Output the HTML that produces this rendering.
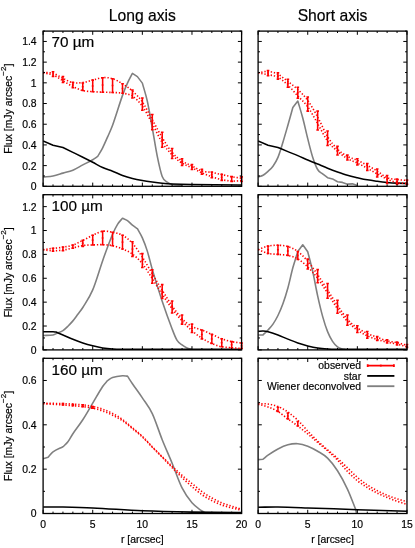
<!DOCTYPE html>
<html><head><meta charset="utf-8"><title>Flux profiles</title>
<style>
html,body{margin:0;padding:0;background:#fff;}
svg{display:block;will-change:transform;}
text{font-family:"Liberation Sans",sans-serif;fill:#000;stroke:#000;stroke-width:0.18px;}
.t{font-size:10.4px;}
.b{font-size:15.7px;}
.p{font-size:15.3px;}
</style></head><body>
<svg width="415" height="548" viewBox="0 0 415 548">
<rect width="415" height="548" fill="#fff"/>
<clipPath id="cL0"><rect x="43.1" y="31.1" width="198.5" height="155.2"/></clipPath>
<g clip-path="url(#cL0)">
<path d="M43.1 177.05C46.41 176.68 49.72 176.57 53.03 175.92C56.33 175.27 59.64 174.1 62.95 173.14C66.26 172.18 69.57 171.53 72.88 170.15C76.18 168.78 79.49 166.63 82.8 164.9C86.11 163.17 89.42 161.63 92.72 159.75C94.38 158.81 96.03 157.55 97.69 156.45C99.34 153.57 101 151.06 102.65 147.8C104.3 144.54 105.96 140.64 107.61 136.88C109.27 133.12 110.92 129.86 112.58 125.25C115.88 116.02 119.19 104.74 122.5 95.38C124.15 90.69 125.81 86.77 127.46 83.12C129.12 79.46 130.77 76.66 132.43 73.44L137.39 76.63L142.35 83.12C144 89.13 145.66 93.69 147.31 101.14C148.97 108.59 150.62 118.65 152.28 127.82C153.93 136.99 155.58 148.04 157.24 156.15C158.89 164.25 160.55 172.09 162.2 176.44C163.85 180.78 165.51 180.87 167.16 182.2C168.82 183.54 170.47 184.1 172.12 184.47C175.43 185.2 178.74 185.16 182.05 185.5" fill="none" stroke="#808080" stroke-width="1.6" stroke-linejoin="round"/>
<path d="M43.1 141L53.03 145.33L62.95 147.49C66.26 149.11 69.57 150.72 72.88 152.33C76.18 153.95 79.49 155.53 82.8 157.18C86.11 158.82 89.42 160.49 92.72 162.22C96.03 163.96 99.34 166.07 102.65 167.58C105.96 169.09 109.27 169.98 112.58 171.29C115.88 172.59 119.19 174.22 122.5 175.41C125.81 176.59 129.12 177.55 132.43 178.39C135.73 179.23 139.04 179.85 142.35 180.45C145.66 181.05 148.97 181.53 152.28 182C155.58 182.46 158.89 182.91 162.2 183.23C165.51 183.56 168.82 183.82 172.12 183.96C178.74 184.23 185.36 184.37 191.97 184.47C208.52 184.72 225.06 184.81 241.6 184.99" fill="none" stroke="#000000" stroke-width="1.55" stroke-linejoin="round"/>
</g>
<path d="M43.1 72.61C46.41 72.82 49.72 72.27 53.03 73.23C56.33 74.19 59.64 76.8 62.95 78.38C66.26 79.96 69.57 82.02 72.88 82.71C76.18 83.39 79.49 82.93 82.8 82.5C86.11 82.07 89.42 80.94 92.72 80.13C96.03 79.32 99.34 77.9 102.65 77.66C105.96 77.42 109.27 77.66 112.58 78.69C115.88 79.72 119.19 81.78 122.5 83.84C125.81 85.9 129.12 88.04 132.43 91.05C135.73 94.05 139.04 97.11 142.35 101.86C145.66 106.62 148.97 113.62 152.28 119.58C155.58 125.54 158.89 132.13 162.2 137.6C165.51 143.08 168.82 148.54 172.12 152.44C175.43 156.33 178.74 158.74 182.05 160.99C185.36 163.23 188.67 164.26 191.97 165.93C195.28 167.6 198.59 169.9 201.9 170.98C205.21 172.06 208.52 171.82 211.83 172.42C215.13 173.02 218.44 173.86 221.75 174.58C225.06 175.3 228.37 176.14 231.68 176.75C234.98 177.35 238.29 177.71 241.6 178.19" fill="none" stroke="#ff0000" stroke-width="1.6" stroke-dasharray="1.3 1.9"/>
<path d="M43.1 72.82C46.41 73.54 49.72 73.66 53.03 74.98C56.33 76.3 59.64 78.81 62.95 80.75C66.26 82.69 69.57 84.99 72.88 86.62C76.18 88.25 79.49 89.69 82.8 90.53C86.11 91.38 89.42 91.39 92.72 91.67C96.03 91.94 99.34 92.04 102.65 92.18C105.96 92.32 109.27 92.32 112.58 92.49C115.88 92.66 119.19 92.61 122.5 93.21C125.81 93.81 129.12 93.93 132.43 96.1C135.73 98.26 139.04 101.59 142.35 106.19C145.66 110.79 148.97 117.64 152.28 123.7C155.58 129.76 158.89 137.35 162.2 142.55C165.51 147.75 168.82 151.48 172.12 154.91C175.43 158.34 178.74 161 182.05 163.15C185.36 165.29 188.67 166.17 191.97 167.78C195.28 169.4 198.59 171.34 201.9 172.83C205.21 174.32 208.52 175.61 211.83 176.75C215.13 177.88 218.44 178.91 221.75 179.63C225.06 180.35 228.37 180.9 231.68 181.07C234.98 181.24 238.29 180.8 241.6 180.66" fill="none" stroke="#ff0000" stroke-width="1.6" stroke-dasharray="1.3 1.9"/>
<path d="M53.03 71.79V76.42M51.73 71.79H54.33M51.73 76.42H54.33M62.95 76.42V82.5M61.65 76.42H64.25M61.65 82.5H64.25M61.95 79.46h2M72.88 82.19V87.75M71.58 82.19H74.17M71.58 87.75H74.17M71.88 84.97h2M82.8 83.02V90.53M81.5 83.02H84.1M81.5 90.53H84.1M81.8 86.77h2M92.72 80.13V91.67M91.42 80.13H94.02M91.42 91.67H94.02M91.72 85.9h2M102.65 77.66V92.18M101.35 77.66H103.95M101.35 92.18H103.95M101.65 84.92h2M112.58 78.69V92.49M111.28 78.69H113.88M111.28 92.49H113.88M111.58 85.59h2M122.5 83.84V93.21M121.2 83.84H123.8M121.2 93.21H123.8M121.5 88.53h2M132.43 89.92V97.95M131.12 89.92H133.73M131.12 97.95H133.73M131.43 93.93h2M142.35 97.95V110.31M141.05 97.95H143.65M141.05 110.31H143.65M141.35 104.13h2M152.28 114.43V129.67M150.97 114.43H153.58M150.97 129.67H153.58M151.28 122.05h2M162.2 132.25V147.18M160.9 132.25H163.5M160.9 147.18H163.5M161.2 139.72h2M172.12 148.42V158.51M170.82 148.42H173.43M170.82 158.51H173.43M171.12 153.47h2M182.05 158.72V165.41M180.75 158.72H183.35M180.75 165.41H183.35M181.05 162.07h2M191.97 164.49V169.53M190.67 164.49H193.28M190.67 169.53H193.28M190.97 167.01h2M201.9 169.23V174.17M200.6 169.23H203.2M200.6 174.17H203.2M211.83 171.9V177.78M210.53 171.9H213.13M210.53 177.78H213.13M210.83 174.84h2M221.75 174.38V180.35M220.45 174.38H223.05M220.45 180.35H223.05M220.75 177.36h2M231.68 176.64V181.38M230.38 176.64H232.98M230.38 181.38H232.98M241.6 176.85V181.48M240.3 176.85H242.9M240.3 181.48H242.9" fill="none" stroke="#ff0000" stroke-width="1.55"/>
<path d="M43.1 186.3v-3.7M43.1 31.1v3.7M53.03 186.3v-1.9M53.03 31.1v1.9M62.95 186.3v-1.9M62.95 31.1v1.9M72.88 186.3v-1.9M72.88 31.1v1.9M82.8 186.3v-1.9M82.8 31.1v1.9M92.72 186.3v-3.7M92.72 31.1v3.7M102.65 186.3v-1.9M102.65 31.1v1.9M112.58 186.3v-1.9M112.58 31.1v1.9M122.5 186.3v-1.9M122.5 31.1v1.9M132.43 186.3v-1.9M132.43 31.1v1.9M142.35 186.3v-3.7M142.35 31.1v3.7M152.28 186.3v-1.9M152.28 31.1v1.9M162.2 186.3v-1.9M162.2 31.1v1.9M172.12 186.3v-1.9M172.12 31.1v1.9M182.05 186.3v-1.9M182.05 31.1v1.9M191.97 186.3v-3.7M191.97 31.1v3.7M201.9 186.3v-1.9M201.9 31.1v1.9M211.83 186.3v-1.9M211.83 31.1v1.9M221.75 186.3v-1.9M221.75 31.1v1.9M231.68 186.3v-1.9M231.68 31.1v1.9M241.6 186.3v-3.7M241.6 31.1v3.7M43.1 186.3h3.7M241.6 186.3h-3.7M43.1 175.95h1.9M241.6 175.95h-1.9M43.1 165.61h3.7M241.6 165.61h-3.7M43.1 155.26h1.9M241.6 155.26h-1.9M43.1 144.91h3.7M241.6 144.91h-3.7M43.1 134.57h1.9M241.6 134.57h-1.9M43.1 124.22h3.7M241.6 124.22h-3.7M43.1 113.87h1.9M241.6 113.87h-1.9M43.1 103.53h3.7M241.6 103.53h-3.7M43.1 93.18h1.9M241.6 93.18h-1.9M43.1 82.83h3.7M241.6 82.83h-3.7M43.1 72.49h1.9M241.6 72.49h-1.9M43.1 62.14h3.7M241.6 62.14h-3.7M43.1 51.79h1.9M241.6 51.79h-1.9M43.1 41.45h3.7M241.6 41.45h-3.7M43.1 31.1h1.9M241.6 31.1h-1.9" fill="none" stroke="#000" stroke-width="1"/>
<rect x="43.1" y="31.1" width="198.5" height="155.2" fill="none" stroke="#000" stroke-width="1.3"/>
<text x="36.6" y="190.2" text-anchor="end" class="t">0</text>
<text x="36.6" y="169.51" text-anchor="end" class="t">0.2</text>
<text x="36.6" y="148.81" text-anchor="end" class="t">0.4</text>
<text x="36.6" y="128.12" text-anchor="end" class="t">0.6</text>
<text x="36.6" y="107.43" text-anchor="end" class="t">0.8</text>
<text x="36.6" y="86.73" text-anchor="end" class="t">1</text>
<text x="36.6" y="66.04" text-anchor="end" class="t">1.2</text>
<text x="36.6" y="45.35" text-anchor="end" class="t">1.4</text>
<text transform="translate(12.4 108.7) rotate(-90)" text-anchor="middle" class="t">Flux [mJy arcsec<tspan dy="-6.8" font-size="8">−2</tspan><tspan dy="6.8">]</tspan></text>
<text x="51.5" y="47.4" class="p">70 µm</text>
<text x="142.35" y="20.7" text-anchor="middle" class="b">Long axis</text>
<clipPath id="cL1"><rect x="43.1" y="194.7" width="198.5" height="155.2"/></clipPath>
<g clip-path="url(#cL1)">
<path d="M43.1 335.43C46.41 335.27 49.72 335.54 53.03 334.95C54.68 334.66 56.33 333.52 57.99 332.81C59.64 332.09 61.3 331.75 62.95 330.66C64.6 329.57 66.26 327.88 67.91 326.25C69.57 324.62 71.22 322.87 72.88 320.88C74.53 318.9 76.18 316.55 77.84 314.33C79.49 312.1 81.15 310.25 82.8 307.53C86.11 302.1 89.42 297.69 92.72 289.88C96.03 282.07 99.34 270.21 102.65 260.67C104.3 255.9 105.96 251.37 107.61 246.96C109.27 242.55 110.92 237.98 112.58 234.2C114.23 230.43 115.88 226.97 117.54 224.31C119.19 221.64 120.85 220.25 122.5 218.23C124.15 219.02 125.81 219.46 127.46 220.61C129.12 221.76 130.77 223.79 132.43 225.14C134.08 226.49 135.73 227.53 137.39 228.72C139.04 231.78 140.7 234.16 142.35 237.9C144 241.64 145.66 245.89 147.31 251.13C148.97 256.38 150.62 263.81 152.28 269.38C155.58 280.51 158.89 291.28 162.2 301.21C165.51 311.15 168.82 320.28 172.12 328.99C173.78 333.35 175.43 337.78 177.09 340.44C178.74 343.1 180.4 343.7 182.05 344.97C183.7 346.24 185.36 347.31 187.01 348.07C188.67 348.82 190.32 349.02 191.97 349.5" fill="none" stroke="#808080" stroke-width="1.6" stroke-linejoin="round"/>
<path d="M43.1 331.73C46.41 331.73 49.72 331.64 53.03 331.73C54.02 331.76 55.01 331.97 56 332.09C58.32 333.05 60.63 333.97 62.95 334.95C66.26 336.36 69.57 337.91 72.88 339.25C76.18 340.58 79.49 341.85 82.8 342.94C86.11 344.04 89.42 344.97 92.72 345.8C96.03 346.64 99.34 347.41 102.65 347.95C105.96 348.49 109.27 348.8 112.58 349.02C115.88 349.24 119.19 349.26 122.5 349.26C162.2 349.33 201.9 349.26 241.6 349.26" fill="none" stroke="#000000" stroke-width="1.55" stroke-linejoin="round"/>
</g>
<path d="M43.1 249.58C46.41 249.19 49.72 248.79 53.03 248.39C56.33 247.99 59.64 247.76 62.95 247.2C66.26 246.64 69.57 246.19 72.88 245.05C76.18 243.92 79.49 242.03 82.8 240.4C86.11 238.77 89.42 236.81 92.72 235.28C96.03 233.75 99.34 231.72 102.65 231.22C105.96 230.73 109.27 231.62 112.58 232.3C115.88 232.97 119.19 233.45 122.5 235.28C125.81 237.11 129.12 239.63 132.43 243.27C135.73 246.9 139.04 252.01 142.35 257.1C145.66 262.18 148.97 268.26 152.28 273.79C155.58 279.31 158.89 284.9 162.2 290.24C165.51 295.59 168.82 301.13 172.12 305.86C175.43 310.59 178.74 315.18 182.05 318.62C185.36 322.06 188.67 324.58 191.97 326.49C195.28 328.4 198.59 328.75 201.9 330.07C205.21 331.38 208.52 332.91 211.83 334.36C215.13 335.81 218.44 337.56 221.75 338.77C225.06 339.98 228.37 340.92 231.68 341.63C234.98 342.35 238.29 342.58 241.6 343.06" fill="none" stroke="#ff0000" stroke-width="1.6" stroke-dasharray="1.3 1.9"/>
<path d="M43.1 249.82C46.41 250.14 49.72 250.74 53.03 250.78C56.33 250.82 59.64 250.54 62.95 250.06C66.26 249.58 69.57 248.67 72.88 247.92C76.18 247.16 79.49 246.03 82.8 245.53C86.11 245.03 89.42 245.07 92.72 244.93C96.03 244.8 99.34 244.58 102.65 244.7C105.96 244.82 109.27 244.93 112.58 245.65C115.88 246.37 119.19 247.58 122.5 248.99C125.81 250.4 129.12 251.67 132.43 254.12C135.73 256.56 139.04 259.56 142.35 263.65C145.66 267.75 148.97 273.57 152.28 278.68C155.58 283.78 158.89 289.27 162.2 294.3C165.51 299.32 168.82 304.39 172.12 308.84C175.43 313.29 178.74 317.37 182.05 321C185.36 324.64 188.67 327.8 191.97 330.66C195.28 333.52 198.59 336.03 201.9 338.17C205.21 340.32 208.52 342.11 211.83 343.54C215.13 344.97 218.44 346.06 221.75 346.76C225.06 347.45 228.37 347.41 231.68 347.71C234.98 348.01 238.29 348.27 241.6 348.55" fill="none" stroke="#ff0000" stroke-width="1.6" stroke-dasharray="1.3 1.9"/>
<path d="M53.03 248.15V251.25M51.73 248.15H54.33M51.73 251.25H54.33M62.95 246.96V250.66M61.65 246.96H64.25M61.65 250.66H64.25M72.88 244.93V248.15M71.58 244.93H74.17M71.58 248.15H74.17M82.8 240.17V246.37M81.5 240.17H84.1M81.5 246.37H84.1M81.8 243.27h2M92.72 235.28V244.93M91.42 235.28H94.02M91.42 244.93H94.02M91.72 240.11h2M102.65 231.22V244.7M101.35 231.22H103.95M101.35 244.7H103.95M101.65 237.96h2M112.58 232.3V245.65M111.28 232.3H113.88M111.28 245.65H113.88M111.58 238.97h2M122.5 235.28V248.99M121.2 235.28H123.8M121.2 248.99H123.8M121.5 242.13h2M132.43 241.72V256.5M131.12 241.72H133.73M131.12 256.5H133.73M131.43 249.11h2M142.35 253.64V267.47M141.05 253.64H143.65M141.05 267.47H143.65M141.35 260.55h2M152.28 269.73V283.33M150.97 269.73H153.58M150.97 283.33H153.58M151.28 276.53h2M162.2 284.64V298.59M160.9 284.64H163.5M160.9 298.59H163.5M161.2 291.61h2M172.12 300.97V313.02M170.82 300.97H173.43M170.82 313.02H173.43M171.12 306.99h2M182.05 314.92V324.1M180.75 314.92H183.35M180.75 324.1H183.35M181.05 319.51h2M191.97 324.1V332.45M190.67 324.1H193.28M190.67 332.45H193.28M190.97 328.28h2M201.9 330.07V339.01M200.6 330.07H203.2M200.6 339.01H203.2M200.9 334.54h2M211.83 334.36V343.54M210.53 334.36H213.13M210.53 343.54H213.13M210.83 338.95h2M221.75 338.77V346.76M220.45 338.77H223.05M220.45 346.76H223.05M220.75 342.76h2M231.68 341.63V347.71M230.38 341.63H232.98M230.38 347.71H232.98M230.68 344.67h2M241.6 343.06V348.55M240.3 343.06H242.9M240.3 348.55H242.9M240.6 345.8h2" fill="none" stroke="#ff0000" stroke-width="1.55"/>
<path d="M43.1 349.9v-3.7M43.1 194.7v3.7M53.03 349.9v-1.9M53.03 194.7v1.9M62.95 349.9v-1.9M62.95 194.7v1.9M72.88 349.9v-1.9M72.88 194.7v1.9M82.8 349.9v-1.9M82.8 194.7v1.9M92.72 349.9v-3.7M92.72 194.7v3.7M102.65 349.9v-1.9M102.65 194.7v1.9M112.58 349.9v-1.9M112.58 194.7v1.9M122.5 349.9v-1.9M122.5 194.7v1.9M132.43 349.9v-1.9M132.43 194.7v1.9M142.35 349.9v-3.7M142.35 194.7v3.7M152.28 349.9v-1.9M152.28 194.7v1.9M162.2 349.9v-1.9M162.2 194.7v1.9M172.12 349.9v-1.9M172.12 194.7v1.9M182.05 349.9v-1.9M182.05 194.7v1.9M191.97 349.9v-3.7M191.97 194.7v3.7M201.9 349.9v-1.9M201.9 194.7v1.9M211.83 349.9v-1.9M211.83 194.7v1.9M221.75 349.9v-1.9M221.75 194.7v1.9M231.68 349.9v-1.9M231.68 194.7v1.9M241.6 349.9v-3.7M241.6 194.7v3.7M43.1 349.9h3.7M241.6 349.9h-3.7M43.1 337.96h1.9M241.6 337.96h-1.9M43.1 326.02h3.7M241.6 326.02h-3.7M43.1 314.08h1.9M241.6 314.08h-1.9M43.1 302.15h3.7M241.6 302.15h-3.7M43.1 290.21h1.9M241.6 290.21h-1.9M43.1 278.27h3.7M241.6 278.27h-3.7M43.1 266.33h1.9M241.6 266.33h-1.9M43.1 254.39h3.7M241.6 254.39h-3.7M43.1 242.45h1.9M241.6 242.45h-1.9M43.1 230.52h3.7M241.6 230.52h-3.7M43.1 218.58h1.9M241.6 218.58h-1.9M43.1 206.64h3.7M241.6 206.64h-3.7M43.1 194.7h1.9M241.6 194.7h-1.9" fill="none" stroke="#000" stroke-width="1"/>
<rect x="43.1" y="194.7" width="198.5" height="155.2" fill="none" stroke="#000" stroke-width="1.3"/>
<text x="36.6" y="353.8" text-anchor="end" class="t">0</text>
<text x="36.6" y="329.92" text-anchor="end" class="t">0.2</text>
<text x="36.6" y="306.05" text-anchor="end" class="t">0.4</text>
<text x="36.6" y="282.17" text-anchor="end" class="t">0.6</text>
<text x="36.6" y="258.29" text-anchor="end" class="t">0.8</text>
<text x="36.6" y="234.42" text-anchor="end" class="t">1</text>
<text x="36.6" y="210.54" text-anchor="end" class="t">1.2</text>
<text transform="translate(12.4 272.3) rotate(-90)" text-anchor="middle" class="t">Flux [mJy arcsec<tspan dy="-6.8" font-size="8">−2</tspan><tspan dy="6.8">]</tspan></text>
<text x="51.5" y="211" class="p">100 µm</text>
<clipPath id="cL2"><rect x="43.1" y="358.3" width="198.5" height="155.2"/></clipPath>
<g clip-path="url(#cL2)">
<path d="M43.1 458.75L48.06 457.2C49.72 455.43 51.37 453.04 53.03 451.89C56.33 449.57 59.64 448.49 62.95 446.79C64.6 445.1 66.26 443.88 67.91 441.7C69.57 439.52 71.22 436.16 72.88 433.73C76.18 428.86 79.49 424.87 82.8 419.78C86.11 414.69 89.42 408.71 92.72 403.17C96.03 397.64 99.34 391.58 102.65 386.56C104.3 384.05 105.96 382.58 107.61 380.59C109.27 379.55 110.92 378.03 112.58 377.49C115.88 376.4 119.19 376.01 122.5 375.71C124.15 375.57 125.81 376.01 127.46 376.16C129.12 378.67 130.77 381.27 132.43 383.69C135.73 388.51 139.04 392.88 142.35 397.86C145.66 402.84 148.97 406.6 152.28 413.58C155.58 420.55 158.89 431.44 162.2 439.71C165.51 447.97 168.82 455.13 172.12 463.18C175.43 471.22 178.74 481.37 182.05 487.98C185.36 494.58 188.67 498.98 191.97 502.81C195.28 506.65 198.59 508.58 201.9 511.01C203.22 511.98 204.55 512.34 205.87 513" fill="none" stroke="#808080" stroke-width="1.6" stroke-linejoin="round"/>
<path d="M43.1 506.91C49.72 506.95 56.33 506.89 62.95 507.02C72.88 507.22 82.8 507.44 92.72 507.91C109.27 508.69 125.81 510.08 142.35 510.79C158.89 511.49 175.43 511.82 191.97 512.11C208.52 512.41 225.06 512.41 241.6 512.56" fill="none" stroke="#000000" stroke-width="1.55" stroke-linejoin="round"/>
</g>
<path d="M43.1 403.39C46.41 403.39 49.72 403.36 53.03 403.39C56.33 403.43 59.64 403.49 62.95 403.61C66.26 403.74 69.57 403.96 72.88 404.17C76.18 404.37 79.49 404.44 82.8 404.83C86.11 405.22 89.42 405.77 92.72 406.49C96.03 407.21 99.34 407.99 102.65 409.15C105.96 410.31 109.27 411.75 112.58 413.47C115.88 415.18 119.19 417.07 122.5 419.45C125.81 421.83 129.12 424.95 132.43 427.75C135.73 430.55 139.04 433.1 142.35 436.27C145.66 439.45 148.97 443.38 152.28 446.79C155.58 450.21 158.89 453.51 162.2 456.76C165.51 460 168.82 463.18 172.12 466.28C175.43 469.38 178.74 472.48 182.05 475.36C185.36 478.24 188.67 480.86 191.97 483.55C195.28 486.24 198.59 489.12 201.9 491.52C205.21 493.92 208.52 496.06 211.83 497.94C215.13 499.82 218.44 501.45 221.75 502.81C225.06 504.18 228.37 505.07 231.68 506.14C234.98 507.21 238.29 508.2 241.6 509.24" fill="none" stroke="#ff0000" stroke-width="1.6" stroke-dasharray="1.3 1.9"/>
<path d="M43.1 403.61C46.41 403.84 49.72 404.06 53.03 404.28C56.33 404.5 59.64 404.7 62.95 404.94C66.26 405.18 69.57 405.44 72.88 405.72C76.18 405.99 79.49 406.18 82.8 406.6C86.11 407.03 89.42 407.54 92.72 408.26C96.03 408.98 99.34 409.76 102.65 410.92C105.96 412.08 109.27 413.6 112.58 415.24C115.88 416.88 119.19 418.54 122.5 420.77C125.81 423.01 129.12 425.94 132.43 428.64C135.73 431.33 139.04 433.84 142.35 436.94C145.66 440.04 148.97 443.86 152.28 447.24C155.58 450.61 158.89 453.8 162.2 457.2C165.51 460.6 168.82 464.21 172.12 467.61C175.43 471 178.74 474.4 182.05 477.57C185.36 480.75 188.67 483.81 191.97 486.65C195.28 489.49 198.59 492.3 201.9 494.62C205.21 496.95 208.52 498.87 211.83 500.6C215.13 502.33 218.44 503.81 221.75 505.03C225.06 506.25 228.37 507.06 231.68 507.91C234.98 508.76 238.29 509.38 241.6 510.12" fill="none" stroke="#ff0000" stroke-width="1.6" stroke-dasharray="1.3 1.9"/>
<path d="M62.95 403.61V404.94M61.65 403.61H64.25M61.65 404.94H64.25M72.88 404.17V405.72M71.58 404.17H74.17M71.58 405.72H74.17M82.8 404.83V406.6M81.5 404.83H84.1M81.5 406.6H84.1M92.72 406.49V408.26M91.42 406.49H94.02M91.42 408.26H94.02" fill="none" stroke="#ff0000" stroke-width="1.55"/>
<path d="M43.1 513.5v-3.7M43.1 358.3v3.7M53.03 513.5v-1.9M53.03 358.3v1.9M62.95 513.5v-1.9M62.95 358.3v1.9M72.88 513.5v-1.9M72.88 358.3v1.9M82.8 513.5v-1.9M82.8 358.3v1.9M92.72 513.5v-3.7M92.72 358.3v3.7M102.65 513.5v-1.9M102.65 358.3v1.9M112.58 513.5v-1.9M112.58 358.3v1.9M122.5 513.5v-1.9M122.5 358.3v1.9M132.43 513.5v-1.9M132.43 358.3v1.9M142.35 513.5v-3.7M142.35 358.3v3.7M152.28 513.5v-1.9M152.28 358.3v1.9M162.2 513.5v-1.9M162.2 358.3v1.9M172.12 513.5v-1.9M172.12 358.3v1.9M182.05 513.5v-1.9M182.05 358.3v1.9M191.97 513.5v-3.7M191.97 358.3v3.7M201.9 513.5v-1.9M201.9 358.3v1.9M211.83 513.5v-1.9M211.83 358.3v1.9M221.75 513.5v-1.9M221.75 358.3v1.9M231.68 513.5v-1.9M231.68 358.3v1.9M241.6 513.5v-3.7M241.6 358.3v3.7M43.1 513.5h3.7M241.6 513.5h-3.7M43.1 491.33h1.9M241.6 491.33h-1.9M43.1 469.16h3.7M241.6 469.16h-3.7M43.1 446.99h1.9M241.6 446.99h-1.9M43.1 424.81h3.7M241.6 424.81h-3.7M43.1 402.64h1.9M241.6 402.64h-1.9M43.1 380.47h3.7M241.6 380.47h-3.7M43.1 358.3h1.9M241.6 358.3h-1.9" fill="none" stroke="#000" stroke-width="1"/>
<rect x="43.1" y="358.3" width="198.5" height="155.2" fill="none" stroke="#000" stroke-width="1.3"/>
<text x="36.6" y="517.4" text-anchor="end" class="t">0</text>
<text x="36.6" y="473.06" text-anchor="end" class="t">0.2</text>
<text x="36.6" y="428.71" text-anchor="end" class="t">0.4</text>
<text x="36.6" y="384.37" text-anchor="end" class="t">0.6</text>
<text transform="translate(12.4 435.9) rotate(-90)" text-anchor="middle" class="t">Flux [mJy arcsec<tspan dy="-6.8" font-size="8">−2</tspan><tspan dy="6.8">]</tspan></text>
<text x="51.5" y="374.6" class="p">160 µm</text>
<text x="43.1" y="527.7" text-anchor="middle" class="t">0</text>
<text x="92.72" y="527.7" text-anchor="middle" class="t">5</text>
<text x="142.35" y="527.7" text-anchor="middle" class="t">10</text>
<text x="191.97" y="527.7" text-anchor="middle" class="t">15</text>
<text x="241.6" y="527.7" text-anchor="middle" class="t">20</text>
<text x="142.35" y="542.6" text-anchor="middle" class="t">r [arcsec]</text>
<clipPath id="cR0"><rect x="258.1" y="31.1" width="148.88" height="155.2"/></clipPath>
<g clip-path="url(#cR0)">
<path d="M258.1 176.95C259.75 176.37 261.41 176.14 263.06 175.2C264.72 174.26 266.37 172.78 268.03 171.29C269.68 169.79 271.33 168.56 272.99 166.24C274.64 163.92 276.3 161.38 277.95 157.38C279.6 153.38 281.26 147.6 282.91 142.24C284.57 136.88 286.22 131.03 287.88 125.25C289.53 119.46 291.18 113.43 292.84 107.53L297.8 101.04C299.45 106.7 301.11 111.77 302.76 118.03C304.42 124.3 306.07 132.11 307.73 138.63C309.38 145.16 311.03 152.03 312.69 157.18C314.34 162.33 316 166.75 317.65 169.53C319.3 172.32 320.96 172.5 322.61 173.86C324.27 175.22 325.92 176.4 327.58 177.67L332.54 178.91L337.5 181.79L342.46 182.41L347.43 184.16L352.39 183.85L357.35 185.5" fill="none" stroke="#808080" stroke-width="1.6" stroke-linejoin="round"/>
<path d="M258.1 141L268.03 145.33L277.95 147.49C281.26 148.87 284.57 150.26 287.88 151.61C291.18 152.97 294.49 154.24 297.8 155.63C301.11 157.02 304.42 158.55 307.73 159.96C311.03 161.36 314.34 162.7 317.65 164.08C320.96 165.45 324.27 166.89 327.58 168.2C330.88 169.5 334.19 170.74 337.5 171.9C340.81 173.07 344.12 174.24 347.43 175.2C350.73 176.16 354.04 176.9 357.35 177.67C360.66 178.44 363.97 179.23 367.28 179.84C370.58 180.44 373.89 180.85 377.2 181.28C380.51 181.71 383.82 182.1 387.12 182.41C390.43 182.72 393.74 182.96 397.05 183.13C400.36 183.3 403.67 183.34 406.98 183.44" fill="none" stroke="#000000" stroke-width="1.55" stroke-linejoin="round"/>
</g>
<path d="M258.1 72.82C261.41 72.34 264.72 71.14 268.03 71.38C271.33 71.62 274.64 72.58 277.95 74.26C281.26 75.94 284.57 78.93 287.88 81.47C291.18 84.01 294.49 86.35 297.8 89.5C301.11 92.66 304.42 95.84 307.73 100.42C311.03 105.01 314.34 110.96 317.65 117C320.96 123.05 324.27 131.32 327.58 136.68C330.88 142.03 334.19 145.86 337.5 149.14C340.81 152.42 344.12 154.5 347.43 156.35C350.73 158.2 354.04 158.77 357.35 160.26C360.66 161.76 363.97 163.51 367.28 165.31C370.58 167.11 373.89 169.04 377.2 171.08C380.51 173.12 383.82 176.16 387.12 177.57C390.43 178.98 393.74 179.05 397.05 179.53C400.36 180.01 403.67 180.14 406.98 180.45" fill="none" stroke="#ff0000" stroke-width="1.6" stroke-dasharray="1.3 1.9"/>
<path d="M258.1 72.82C261.41 73.44 264.72 73.95 268.03 74.67C271.33 75.39 274.64 75.41 277.95 77.14C281.26 78.88 284.57 81.93 287.88 85.08C291.18 88.22 294.49 92.37 297.8 95.99C301.11 99.62 304.42 102.21 307.73 106.81C311.03 111.41 314.34 117.88 317.65 123.6C320.96 129.31 324.27 136.49 327.58 141.11C330.88 145.72 334.19 148.39 337.5 151.3C340.81 154.22 344.12 156.64 347.43 158.62C350.73 160.59 354.04 161.55 357.35 163.15C360.66 164.75 363.97 166.39 367.28 168.2C370.58 170 373.89 172.14 377.2 173.96C380.51 175.78 383.82 177.65 387.12 179.11C390.43 180.57 393.74 182 397.05 182.72C400.36 183.44 403.67 183.2 406.98 183.44" fill="none" stroke="#ff0000" stroke-width="1.6" stroke-dasharray="1.3 1.9"/>
<path d="M268.03 70.45V75.7M266.73 70.45H269.33M266.73 75.7H269.33M267.03 73.08h2M277.95 72.82V79.1M276.65 72.82H279.25M276.65 79.1H279.25M276.95 75.96h2M287.88 79.31V87.34M286.57 79.31H289.18M286.57 87.34H289.18M286.88 83.32h2M297.8 87.34V98.16M296.5 87.34H299.1M296.5 98.16H299.1M296.8 92.75h2M307.73 97.02V111.13M306.43 97.02H309.03M306.43 111.13H309.03M306.73 104.08h2M317.65 111.13V130.09M316.35 111.13H318.95M316.35 130.09H318.95M316.65 120.61h2M327.58 130.91V145.43M326.28 130.91H328.88M326.28 145.43H328.88M326.58 138.17h2M337.5 146.15V155.01M336.2 146.15H338.8M336.2 155.01H338.8M336.5 150.58h2M347.43 155.01V160.06M346.12 155.01H348.73M346.12 160.06H348.73M346.43 157.54h2M357.35 158.72V164.9M356.05 158.72H358.65M356.05 164.9H358.65M356.35 161.81h2M367.28 163.56V170.36M365.98 163.56H368.58M365.98 170.36H368.58M366.28 166.96h2M377.2 169.02V176.95M375.9 169.02H378.5M375.9 176.95H378.5M376.2 172.99h2M387.12 175.51V183.44M385.82 175.51H388.43M385.82 183.44H388.43M386.12 179.47h2M397.05 179.11V184.16M395.75 179.11H398.35M395.75 184.16H398.35M396.05 181.64h2M406.98 180.14V184.16M405.68 180.14H408.28M405.68 184.16H408.28" fill="none" stroke="#ff0000" stroke-width="1.55"/>
<path d="M258.1 186.3v-3.7M258.1 31.1v3.7M268.03 186.3v-1.9M268.03 31.1v1.9M277.95 186.3v-1.9M277.95 31.1v1.9M287.88 186.3v-1.9M287.88 31.1v1.9M297.8 186.3v-1.9M297.8 31.1v1.9M307.73 186.3v-3.7M307.73 31.1v3.7M317.65 186.3v-1.9M317.65 31.1v1.9M327.58 186.3v-1.9M327.58 31.1v1.9M337.5 186.3v-1.9M337.5 31.1v1.9M347.43 186.3v-1.9M347.43 31.1v1.9M357.35 186.3v-3.7M357.35 31.1v3.7M367.28 186.3v-1.9M367.28 31.1v1.9M377.2 186.3v-1.9M377.2 31.1v1.9M387.12 186.3v-1.9M387.12 31.1v1.9M397.05 186.3v-1.9M397.05 31.1v1.9M406.98 186.3v-3.7M406.98 31.1v3.7M258.1 186.3h3.7M406.98 186.3h-3.7M258.1 175.95h1.9M406.98 175.95h-1.9M258.1 165.61h3.7M406.98 165.61h-3.7M258.1 155.26h1.9M406.98 155.26h-1.9M258.1 144.91h3.7M406.98 144.91h-3.7M258.1 134.57h1.9M406.98 134.57h-1.9M258.1 124.22h3.7M406.98 124.22h-3.7M258.1 113.87h1.9M406.98 113.87h-1.9M258.1 103.53h3.7M406.98 103.53h-3.7M258.1 93.18h1.9M406.98 93.18h-1.9M258.1 82.83h3.7M406.98 82.83h-3.7M258.1 72.49h1.9M406.98 72.49h-1.9M258.1 62.14h3.7M406.98 62.14h-3.7M258.1 51.79h1.9M406.98 51.79h-1.9M258.1 41.45h3.7M406.98 41.45h-3.7M258.1 31.1h1.9M406.98 31.1h-1.9" fill="none" stroke="#000" stroke-width="1"/>
<rect x="258.1" y="31.1" width="148.88" height="155.2" fill="none" stroke="#000" stroke-width="1.3"/>
<text x="332.54" y="20.7" text-anchor="middle" class="b">Short axis</text>
<clipPath id="cR1"><rect x="258.1" y="194.7" width="148.88" height="155.2"/></clipPath>
<g clip-path="url(#cR1)">
<path d="M258.1 335.07L263.06 334.83C264.72 333.21 266.37 331.73 268.03 329.95C269.68 328.16 271.33 326.51 272.99 324.1C274.64 321.7 276.3 318.9 277.95 315.52C279.6 312.14 281.26 308.43 282.91 303.83C284.57 299.24 286.22 293.98 287.88 287.98C289.53 281.98 291.18 273.91 292.84 267.83C294.49 261.75 296.15 256.94 297.8 251.49L302.76 244.82L307.73 251.73C309.38 258.29 311.03 264.05 312.69 271.4C314.34 278.76 316 288.35 317.65 295.85C319.3 303.34 320.96 310.39 322.61 316.35C324.27 322.32 325.92 327.44 327.58 331.62C329.23 335.79 330.88 338.85 332.54 341.39C334.19 343.94 335.85 345.61 337.5 346.88C339.15 348.15 340.81 348.48 342.46 349.02C343.46 349.35 344.45 349.34 345.44 349.5" fill="none" stroke="#808080" stroke-width="1.6" stroke-linejoin="round"/>
<path d="M258.1 331.38C259.75 331.26 261.41 330.96 263.06 331.02C264.72 331.08 266.37 331.28 268.03 331.73C271.33 332.64 274.64 333.84 277.95 335.07C281.26 336.31 284.57 337.82 287.88 339.13C291.18 340.44 294.49 341.81 297.8 342.94C301.11 344.07 304.42 345.07 307.73 345.92C311.03 346.78 314.34 347.55 317.65 348.07C320.96 348.59 324.27 348.82 327.58 349.02C330.88 349.22 334.19 349.25 337.5 349.26C360.66 349.33 383.82 349.26 406.98 349.26" fill="none" stroke="#000000" stroke-width="1.55" stroke-linejoin="round"/>
</g>
<path d="M258.1 249.58C261.41 248.43 264.72 246.84 268.03 246.13C271.33 245.41 274.64 245.23 277.95 245.29C281.26 245.35 284.57 245.45 287.88 246.48C291.18 247.52 294.49 249.03 297.8 251.49C301.11 253.96 304.42 257.39 307.73 261.27C311.03 265.14 314.34 269.95 317.65 274.74C320.96 279.53 324.27 284.9 327.58 290C330.88 295.11 334.19 300.52 337.5 305.38C340.81 310.25 344.12 315.46 347.43 319.22C350.73 322.97 354.04 325.55 357.35 327.92C360.66 330.28 363.97 331.83 367.28 333.4C370.58 334.97 373.89 336.11 377.2 337.34C380.51 338.57 383.82 339.9 387.12 340.8C390.43 341.69 393.74 341.97 397.05 342.7C400.36 343.44 403.67 344.37 406.98 345.21" fill="none" stroke="#ff0000" stroke-width="1.6" stroke-dasharray="1.3 1.9"/>
<path d="M258.1 249.58C261.41 250.86 264.72 252.61 268.03 253.4C271.33 254.19 274.64 254.02 277.95 254.35C281.26 254.69 284.57 254.67 287.88 255.43C291.18 256.18 294.49 256.96 297.8 258.88C301.11 260.81 304.42 263.75 307.73 266.99C311.03 270.23 314.34 273.95 317.65 278.32C320.96 282.69 324.27 288.16 327.58 293.22C330.88 298.29 334.19 304.03 337.5 308.72C340.81 313.41 344.12 317.8 347.43 321.36C350.73 324.92 354.04 327.64 357.35 330.07C360.66 332.49 363.97 334.34 367.28 335.91C370.58 337.48 373.89 338.43 377.2 339.48C380.51 340.54 383.82 341.45 387.12 342.23C390.43 343 393.74 343.38 397.05 344.13C400.36 344.89 403.67 345.88 406.98 346.76" fill="none" stroke="#ff0000" stroke-width="1.6" stroke-dasharray="1.3 1.9"/>
<path d="M268.03 246.13V253.4M266.73 246.13H269.33M266.73 253.4H269.33M267.03 249.76h2M277.95 245.29V254.35M276.65 245.29H279.25M276.65 254.35H279.25M276.95 249.82h2M287.88 246.48V255.43M286.57 246.48H289.18M286.57 255.43H289.18M286.88 250.96h2M297.8 251.49V259.48M296.5 251.49H299.1M296.5 259.48H299.1M296.8 255.49h2M307.73 259.12V269.02M306.43 259.12H309.03M306.43 269.02H309.03M306.73 264.07h2M317.65 269.62V282.73M316.35 269.62H318.95M316.35 282.73H318.95M316.65 276.17h2M327.58 283.45V298.23M326.28 283.45H328.88M326.28 298.23H328.88M326.58 290.84h2M337.5 300.26V313.25M336.2 300.26H338.8M336.2 313.25H338.8M336.5 306.76h2M347.43 314.92V325.18M346.12 314.92H348.73M346.12 325.18H348.73M346.43 320.05h2M357.35 325.65V332.45M356.05 325.65H358.65M356.05 332.45H358.65M356.35 329.05h2M367.28 331.5V338.29M365.98 331.5H368.58M365.98 338.29H368.58M366.28 334.89h2M377.2 336.62V340.56M375.9 336.62H378.5M375.9 340.56H378.5M387.12 339.84V343.06M385.82 339.84H388.43M385.82 343.06H388.43M397.05 342.11V344.97M395.75 342.11H398.35M395.75 344.97H398.35M406.98 344.49V347.35M405.68 344.49H408.28M405.68 347.35H408.28" fill="none" stroke="#ff0000" stroke-width="1.55"/>
<path d="M258.1 349.9v-3.7M258.1 194.7v3.7M268.03 349.9v-1.9M268.03 194.7v1.9M277.95 349.9v-1.9M277.95 194.7v1.9M287.88 349.9v-1.9M287.88 194.7v1.9M297.8 349.9v-1.9M297.8 194.7v1.9M307.73 349.9v-3.7M307.73 194.7v3.7M317.65 349.9v-1.9M317.65 194.7v1.9M327.58 349.9v-1.9M327.58 194.7v1.9M337.5 349.9v-1.9M337.5 194.7v1.9M347.43 349.9v-1.9M347.43 194.7v1.9M357.35 349.9v-3.7M357.35 194.7v3.7M367.28 349.9v-1.9M367.28 194.7v1.9M377.2 349.9v-1.9M377.2 194.7v1.9M387.12 349.9v-1.9M387.12 194.7v1.9M397.05 349.9v-1.9M397.05 194.7v1.9M406.98 349.9v-3.7M406.98 194.7v3.7M258.1 349.9h3.7M406.98 349.9h-3.7M258.1 337.96h1.9M406.98 337.96h-1.9M258.1 326.02h3.7M406.98 326.02h-3.7M258.1 314.08h1.9M406.98 314.08h-1.9M258.1 302.15h3.7M406.98 302.15h-3.7M258.1 290.21h1.9M406.98 290.21h-1.9M258.1 278.27h3.7M406.98 278.27h-3.7M258.1 266.33h1.9M406.98 266.33h-1.9M258.1 254.39h3.7M406.98 254.39h-3.7M258.1 242.45h1.9M406.98 242.45h-1.9M258.1 230.52h3.7M406.98 230.52h-3.7M258.1 218.58h1.9M406.98 218.58h-1.9M258.1 206.64h3.7M406.98 206.64h-3.7M258.1 194.7h1.9M406.98 194.7h-1.9" fill="none" stroke="#000" stroke-width="1"/>
<rect x="258.1" y="194.7" width="148.88" height="155.2" fill="none" stroke="#000" stroke-width="1.3"/>
<clipPath id="cR2"><rect x="258.1" y="358.3" width="148.88" height="155.2"/></clipPath>
<g clip-path="url(#cR2)">
<path d="M258.1 459.64L263.06 459.19C264.72 457.86 266.37 456.34 268.03 455.21C271.33 452.94 274.64 450.74 277.95 449.01C281.26 447.27 284.57 445.69 287.88 444.8C291.18 443.91 294.49 443.47 297.8 443.69C301.11 443.91 304.42 444.87 307.73 446.13C311.03 447.38 314.34 449.23 317.65 451.22C320.96 453.21 324.27 454.84 327.58 458.09C330.88 461.33 334.19 465.54 337.5 470.71C340.81 475.87 344.12 482.02 347.43 489.09C350.24 495.09 353.05 502.96 355.86 509.9L356.36 513" fill="none" stroke="#808080" stroke-width="1.6" stroke-linejoin="round"/>
<path d="M258.1 507.24C264.72 507.17 271.33 506.93 277.95 507.02C287.88 507.15 297.8 507.57 307.73 507.91C324.27 508.46 340.81 509.12 357.35 509.68C373.89 510.23 390.43 510.71 406.98 511.23" fill="none" stroke="#000000" stroke-width="1.55" stroke-linejoin="round"/>
</g>
<path d="M258.1 403.61C261.41 403.76 264.72 403.58 268.03 404.06C271.33 404.54 274.64 405.16 277.95 406.49C281.26 407.82 284.57 409.74 287.88 412.03C291.18 414.32 294.49 417.05 297.8 420.22C301.11 423.4 304.42 427.6 307.73 431.07C311.03 434.54 314.34 437.9 317.65 441.04C320.96 444.17 324.27 447.01 327.58 449.89C330.88 452.77 334.19 455.32 337.5 458.31C340.81 461.3 344.12 464.65 347.43 467.83C350.73 471 354.04 474.51 357.35 477.35C360.66 480.19 363.97 482.66 367.28 484.88C370.58 487.09 373.89 488.9 377.2 490.64C380.51 492.37 383.82 493.92 387.12 495.29C390.43 496.65 393.74 497.76 397.05 498.83C400.36 499.9 403.67 500.75 406.98 501.71" fill="none" stroke="#ff0000" stroke-width="1.6" stroke-dasharray="1.3 1.9"/>
<path d="M258.1 404.28C261.41 405.16 264.72 405.72 268.03 406.94C271.33 408.15 274.64 409.59 277.95 411.59C281.26 413.58 284.57 416.49 287.88 418.89C291.18 421.29 294.49 423.47 297.8 425.98C301.11 428.49 304.42 431.22 307.73 433.95C311.03 436.68 314.34 439.56 317.65 442.36C320.96 445.17 324.27 447.83 327.58 450.78C330.88 453.73 334.19 456.65 337.5 460.08C340.81 463.51 344.12 467.94 347.43 471.37C350.73 474.8 354.04 477.98 357.35 480.67C360.66 483.37 363.97 485.47 367.28 487.54C370.58 489.6 373.89 491.41 377.2 493.07C380.51 494.73 383.82 496.13 387.12 497.5C390.43 498.87 393.74 500.12 397.05 501.26C400.36 502.41 403.67 503.33 406.98 504.36" fill="none" stroke="#ff0000" stroke-width="1.6" stroke-dasharray="1.3 1.9"/>
<path d="M277.95 407.16V411.59M276.65 407.16H279.25M276.65 411.59H279.25M287.88 412.91V418.89M286.57 412.91H289.18M286.57 418.89H289.18M286.88 415.9h2M297.8 421.55V425.98M296.5 421.55H299.1M296.5 425.98H299.1" fill="none" stroke="#ff0000" stroke-width="1.55"/>
<path d="M258.1 513.5v-3.7M258.1 358.3v3.7M268.03 513.5v-1.9M268.03 358.3v1.9M277.95 513.5v-1.9M277.95 358.3v1.9M287.88 513.5v-1.9M287.88 358.3v1.9M297.8 513.5v-1.9M297.8 358.3v1.9M307.73 513.5v-3.7M307.73 358.3v3.7M317.65 513.5v-1.9M317.65 358.3v1.9M327.58 513.5v-1.9M327.58 358.3v1.9M337.5 513.5v-1.9M337.5 358.3v1.9M347.43 513.5v-1.9M347.43 358.3v1.9M357.35 513.5v-3.7M357.35 358.3v3.7M367.28 513.5v-1.9M367.28 358.3v1.9M377.2 513.5v-1.9M377.2 358.3v1.9M387.12 513.5v-1.9M387.12 358.3v1.9M397.05 513.5v-1.9M397.05 358.3v1.9M406.98 513.5v-3.7M406.98 358.3v3.7M258.1 513.5h3.7M406.98 513.5h-3.7M258.1 491.33h1.9M406.98 491.33h-1.9M258.1 469.16h3.7M406.98 469.16h-3.7M258.1 446.99h1.9M406.98 446.99h-1.9M258.1 424.81h3.7M406.98 424.81h-3.7M258.1 402.64h1.9M406.98 402.64h-1.9M258.1 380.47h3.7M406.98 380.47h-3.7M258.1 358.3h1.9M406.98 358.3h-1.9" fill="none" stroke="#000" stroke-width="1"/>
<rect x="258.1" y="358.3" width="148.88" height="155.2" fill="none" stroke="#000" stroke-width="1.3"/>
<text x="258.1" y="527.7" text-anchor="middle" class="t">0</text>
<text x="307.73" y="527.7" text-anchor="middle" class="t">5</text>
<text x="357.35" y="527.7" text-anchor="middle" class="t">10</text>
<text x="406.98" y="527.7" text-anchor="middle" class="t">15</text>
<text x="332.54" y="542.6" text-anchor="middle" class="t">r [arcsec]</text>
<text x="361.1" y="369.2" text-anchor="end" class="t">observed</text>
<path d="M367.2 365.6H394.4M367.7 364.3v2.6M393.9 364.3v2.6M380.8 364.4v2.4" fill="none" stroke="#ff0000" stroke-width="1.8"/>
<text x="361.1" y="379.5" text-anchor="end" class="t">star</text>
<path d="M367.2 375.9H394.4" fill="none" stroke="#000000" stroke-width="1.85"/>
<text x="361.1" y="389.8" text-anchor="end" class="t">Wiener deconvolved</text>
<path d="M367.2 386.2H394.4" fill="none" stroke="#808080" stroke-width="1.85"/>
</svg>
</body></html>
